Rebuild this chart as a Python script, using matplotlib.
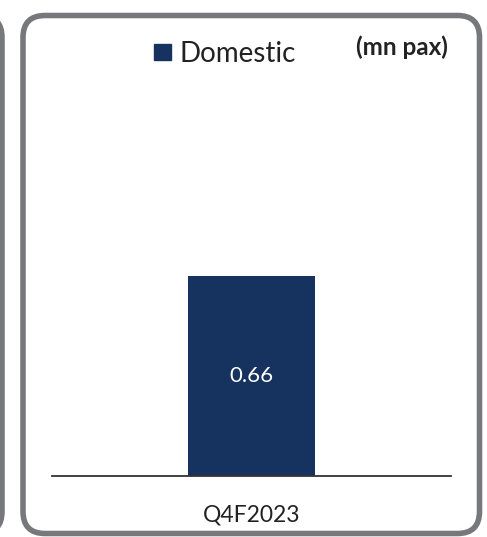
import matplotlib
matplotlib.use("Agg")
import matplotlib.pyplot as plt
from matplotlib.patches import FancyBboxPatch

# data
categories = ["Q4F2023"]
domestic = [0.66]
series_name = "Domestic"
unit_label = "(mn pax)"

W, H = 487, 537
DPI = 100
bar_color = "#16335f"
frame_color = "#77787b"
font = ["Lato", "DejaVu Sans"]

fig = plt.figure(figsize=(W / DPI, H / DPI), dpi=DPI)


def px_box(x0, y0, x1, y1, r):
    # rounded frame given in pixel coords (y from top)
    return FancyBboxPatch(
        (x0 / W, 1 - y1 / H), (x1 - x0) / W, (y1 - y0) / H,
        boxstyle=f"round,pad=0,rounding_size={r / W}",
        transform=fig.transFigure, fill=False,
        edgecolor=frame_color, linewidth=4.0, mutation_aspect=W / H,
        clip_on=False,
    )


fig.patches.append(px_box(23, 15.5, 479.5, 533.5, 22))
fig.patches.append(px_box(-470, 15.5, 2, 533.5, 22))

# axes: baseline from x=51.7 to 450.7 px, at y=475.7 px
ax_left, ax_right = 51.7 / W, 450.7 / W
ax_bottom = 1 - 475.7 / H
ax_height = (475.7 - 276) / H / domestic[0]
ax = fig.add_axes([ax_left, ax_bottom, ax_right - ax_left, ax_height])

bars = ax.bar(range(len(categories)), domestic, width=127 / 399, color=bar_color)
ax.set_xlim(-0.5, 0.5)
ax.set_ylim(0, 1)

for b, v in zip(bars, domestic):
    ax.text(b.get_x() + b.get_width() / 2, v / 2, f"{v:.2f}",
            ha="center", va="center", color="white", fontsize=16, family=font)

for s in ["top", "right", "left"]:
    ax.spines[s].set_visible(False)
ax.spines["bottom"].set_color("#333333")
ax.spines["bottom"].set_linewidth(1.3)
ax.set_yticks([])
ax.set_xticks(range(len(categories)))
ax.set_xticklabels(categories, family=font, fontsize=16.5, color="#222222")
ax.tick_params(axis="x", length=0, pad=21)

# legend and unit
fig.patches.append(plt.Rectangle((154 / W, 1 - 60 / H), 17 / W, 16 / H,
                                 transform=fig.transFigure, color=bar_color))
fig.text(179 / W, 1 - 53.5 / H, series_name, ha="left", va="center",
         fontsize=20, color="#222222", family=font)
fig.text(448 / W, 1 - 47 / H, unit_label, ha="right", va="center",
         fontsize=17.5, fontweight="bold", color="#222222", family=font)

fig.savefig("out.png", dpi=DPI)
